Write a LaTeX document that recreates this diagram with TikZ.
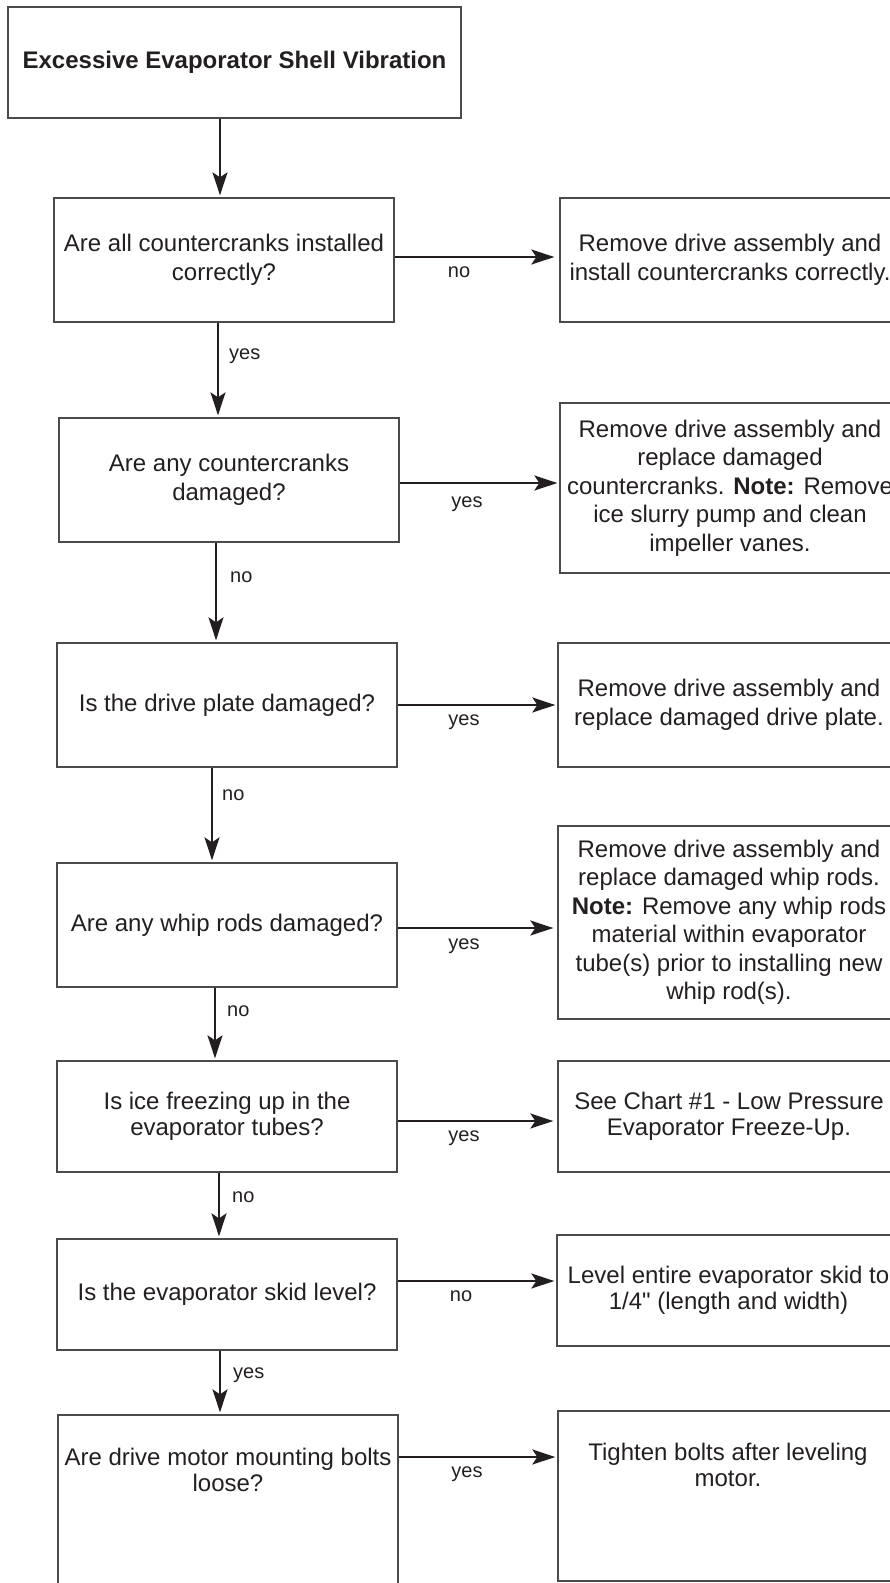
\documentclass[tikz,border=0pt]{standalone}
\usepackage{fontspec}
\setmainfont{Liberation Sans}[Ligatures=TeXOff]
\usetikzlibrary{arrows.meta}
\definecolor{ink}{HTML}{231F20}
\definecolor{frame}{HTML}{4A4A4A}
\tikzset{
  box/.style={draw=frame, line width=1.3pt, inner sep=0pt, align=center,
    text=ink, font=\fontsize{24}{28.5}\selectfont},
  boxlow/.style={box, font=\fontsize{24}{26}\selectfont},
  txt/.style={inner sep=0pt, align=center, text=ink, font=\fontsize{24}{26}\selectfont},
  lbl/.style={inner sep=0pt, text=ink, font=\fontsize{20}{22}\selectfont},
  arr/.style={draw=ink, line width=2.2pt,
    -{Stealth[length=23pt, width=15pt, inset=5pt]}, shorten >=2pt},
}
\begin{document}
\begin{tikzpicture}[x=1pt, y=-1pt]
\useasboundingbox (0,0) rectangle (890,1583);
\clip (0,0) rectangle (890,1583);

% start
\node[box, minimum width=453pt, minimum height=111pt] (start) at (234.5,62.5)
  {\bfseries Excessive Evaporator Shell Vibration};

% questions (left column)
\node[box, minimum width=340pt, minimum height=124pt] (q1) at (224,260)
  {Are all countercranks installed\\correctly?};
\node[box, minimum width=340pt, minimum height=124pt] (q2) at (229,480)
  {Are any countercranks\\damaged?};
\node[box, minimum width=340pt, minimum height=124pt] (q3) at (227,705)
  {Is the drive plate damaged?};
\node[box, minimum width=340pt, minimum height=124pt] (q4) at (227,925)
  {Are any whip rods damaged?};
\node[boxlow, minimum width=340pt, minimum height=111pt] (q5) at (227,1116.5)
  {Is ice freezing up in the\\evaporator tubes?};
\node[boxlow, minimum width=340pt, minimum height=111pt] (q6) at (227,1294.5)
  {Is the evaporator skid level?};
\node[box, minimum width=340pt, minimum height=180pt] (q7) at (228,1505) {};
\node[txt] (q7t) at (228,1469.5) {Are drive motor mounting bolts\\loose?};

% actions (right column)
\node[box, minimum width=340pt, minimum height=124pt] (a1) at (730,260)
  {Remove drive assembly and\\install countercranks correctly.};
\node[box, minimum width=340pt, minimum height=170pt] (a2) at (730,488)
  {Remove drive assembly and\\replace damaged\\countercranks. \textbf{Note:} Remove\\ice slurry pump and clean\\impeller vanes.};
\node[box, minimum width=342pt, minimum height=124pt] (a3) at (729,705)
  {Remove drive assembly and\\replace damaged drive plate.};
\node[box, minimum width=342pt, minimum height=193pt] (a4) at (729,922.5)
  {Remove drive assembly and\\replace damaged whip rods.\\\textbf{Note:} Remove any whip rods\\material within evaporator\\tube(s) prior to installing new\\whip rod(s).};
\node[boxlow, minimum width=342pt, minimum height=111pt] (a5) at (729,1116.5)
  {See Chart \#1 - Low Pressure\\Evaporator Freeze-Up.};
\node[boxlow, minimum width=343pt, minimum height=111pt] (a6) at (728.5,1290.5)
  {Level entire evaporator skid to\\1/4" (length and width)};
\node[box, minimum width=342pt, minimum height=170pt] (a7) at (729,1496) {};
\node[txt] (a7t) at (728,1465) {Tighten bolts after leveling\\motor.};

% main line down the left column
\draw[arr] (start.south -| 220,0) -- (q1.north -| 220,0);
\draw[arr] (q1.south -| 218,0) -- (q2.north -| 218,0);
\draw[arr] (q2.south -| 216,0) -- (q3.north -| 216,0);
\draw[arr] (q3.south -| 212,0) -- (q4.north -| 212,0);
\draw[arr] (q4.south -| 215,0) -- (q5.north -| 215,0);
\draw[arr] (q5.south -| 219,0) -- (q6.north -| 219,0);
\draw[arr] (q6.south -| 220,0) -- (q7.north -| 220,0);

% branches to the right
\draw[arr, shorten >=5pt] (q1.east |- 0,257) -- (a1.west |- 0,257);
\draw[arr] (q2.east |- 0,483) -- (a2.west |- 0,483);
\draw[arr] (q3.east |- 0,705) -- (a3.west |- 0,705);
\draw[arr, shorten >=4pt] (q4.east |- 0,928) -- (a4.west |- 0,928);
\draw[arr, shorten >=4pt] (q5.east |- 0,1121) -- (a5.west |- 0,1121);
\draw[arr] (q6.east |- 0,1281) -- (a6.west |- 0,1281);
\draw[arr] (q7.east |- 0,1457) -- (a7.west |- 0,1457);

% answer labels
\node[lbl, anchor=mid] (l1) at (459,275) {no};
\node[lbl, anchor=mid west] (l2) at (229,357) {yes};
\node[lbl, anchor=mid] (l3) at (467,505) {yes};
\node[lbl, anchor=mid west] (l4) at (230,580) {no};
\node[lbl, anchor=mid] (l5) at (464,723) {yes};
\node[lbl, anchor=mid west] (l6) at (222,798) {no};
\node[lbl, anchor=mid] (l7) at (464,947) {yes};
\node[lbl, anchor=mid west] (l8) at (227,1014) {no};
\node[lbl, anchor=mid] (l9) at (464,1139) {yes};
\node[lbl, anchor=mid west] (l10) at (232,1200) {no};
\node[lbl, anchor=mid] (l11) at (461,1299) {no};
\node[lbl, anchor=mid west] (l12) at (233,1376) {yes};
\node[lbl, anchor=mid] (l13) at (467,1475) {yes};
\end{tikzpicture}
\end{document}
